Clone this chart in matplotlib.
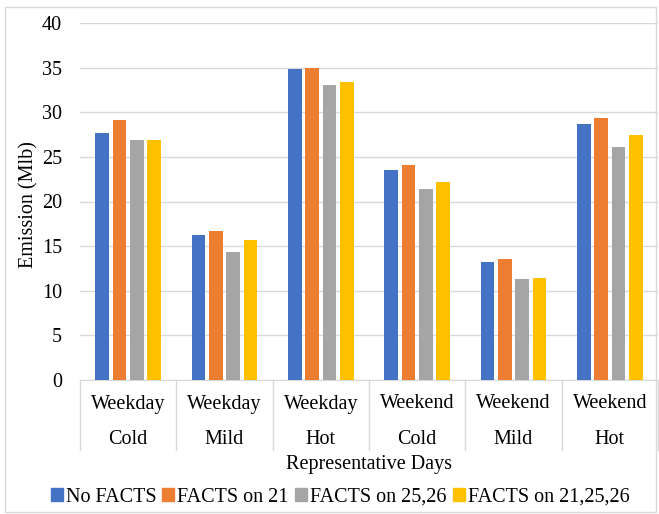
import matplotlib
matplotlib.use("Agg")
import matplotlib.pyplot as plt
from matplotlib.patches import Rectangle
from matplotlib.lines import Line2D
import numpy as np

plt.rcParams['font.family'] = ['Liberation Serif', 'DejaVu Serif']

day_types = ["Weekday", "Weekday", "Weekday", "Weekend", "Weekend", "Weekend"]
temps = ["Cold", "Mild", "Hot", "Cold", "Mild", "Hot"]
series_names = ["No FACTS", "FACTS on 21", "FACTS on 25,26", "FACTS on 21,25,26"]
no_facts = [27.7, 16.3, 34.9, 23.5, 13.2, 28.7]
facts_21 = [29.1, 16.7, 35.0, 24.1, 13.6, 29.3]
facts_2526 = [26.9, 14.3, 33.0, 21.4, 11.3, 26.1]
facts_212526 = [26.9, 15.7, 33.4, 22.2, 11.4, 27.5]
colors = ["#4472C4", "#ED7D31", "#A5A5A5", "#FFC000"]

FS = 14.5
W, H = 659, 514
fig = plt.figure(figsize=(W / 100, H / 100), dpi=100)
fig.patches.append(Rectangle((5 / W, 1 - 512 / H), 651 / W, 505 / H, transform=fig.transFigure,
                             fill=False, edgecolor="#d9d9d9", linewidth=1))

left, right, top, bottom = 80, 658, 23, 380
ax = fig.add_axes([left / W, 1 - bottom / H, (right - left) / W, (bottom - top) / H])

x = np.arange(len(temps))
pitch = 0.18
width = 0.145
all_series = [no_facts, facts_21, facts_2526, facts_212526]
for k, (vals, c) in enumerate(zip(all_series, colors)):
    ax.bar(x + (k - 1.5) * pitch, vals, width=width, color=c, zorder=3, label=series_names[k])

ax.set_xlim(-0.5, 5.5)
ax.set_ylim(0, 40)
ax.set_yticks(np.arange(0, 41, 5))
ax.yaxis.grid(True, color="#d9d9d9", linewidth=1)
ax.set_axisbelow(True)
for s in ["top", "right", "left"]:
    ax.spines[s].set_visible(False)
ax.spines["bottom"].set_color("#d9d9d9")
ax.tick_params(axis="y", length=0, pad=13, labelsize=FS)
ax.tick_params(axis="x", length=0, labelbottom=False)

ah = bottom - top
for i in range(len(temps)):
    ax.text(i, -(404 - bottom) / ah, day_types[i], transform=ax.get_xaxis_transform(),
            ha="center", va="center", fontsize=FS)
    ax.text(i, -(440 - bottom) / ah, temps[i], transform=ax.get_xaxis_transform(),
            ha="center", va="center", fontsize=FS)
for b in np.arange(-0.5, 6.0, 1.0):
    ax.add_line(Line2D([b, b], [0, -(450 - bottom) / ah], transform=ax.get_xaxis_transform(),
                       color="#d9d9d9", linewidth=1, clip_on=False))

ax.text(0.5, -(464 - bottom) / ah, "Representative Days", transform=ax.transAxes,
        ha="center", va="center", fontsize=FS)
fig.text(29 / W, 1 - 205 / H, "Emission (Mlb)", rotation=90, ha="center", va="center", fontsize=FS)

handles = [Rectangle((0, 0), 1, 1, color=c) for c in colors]
fig.legend(handles, series_names, loc="center", bbox_to_anchor=(340 / W, 1 - 497 / H),
           ncol=4, frameon=False, fontsize=FS, handlelength=0.6, handleheight=0.6,
           handletextpad=0.15, columnspacing=0.3, borderaxespad=0)

fig.savefig("out.png", dpi=100)
